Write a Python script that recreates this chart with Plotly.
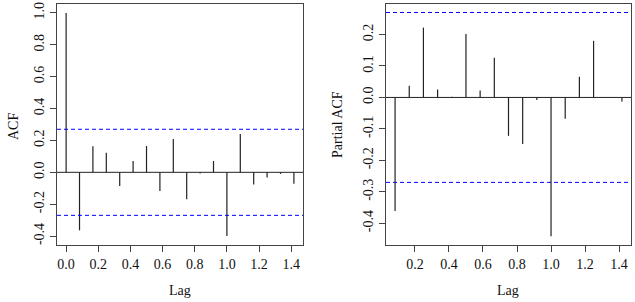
import plotly.graph_objects as go

# ---- data ----
acf_lags = [i / 12 for i in range(0, 18)]
acf_values = [1.0, -0.364, 0.164, 0.123, -0.086, 0.071, 0.165, -0.117, 0.209,
              -0.169, -0.008, 0.071, -0.400, 0.240, -0.077, -0.033, -0.010, -0.071]
pacf_lags = [i / 12 for i in range(1, 18)]
pacf_values = [-0.361, 0.037, 0.222, 0.025, 0.002, 0.202, 0.022, 0.126, -0.122,
               -0.148, -0.008, -0.441, -0.068, 0.066, 0.180, 0.001, -0.013]
conf_limit = 0.27
acf_yticks = [-0.4, -0.2, 0.0, 0.2, 0.4, 0.6, 0.8, 1.0]
pacf_yticks = [-0.4, -0.3, -0.2, -0.1, 0.0, 0.1, 0.2]
acf_xticks = [0.0, 0.2, 0.4, 0.6, 0.8, 1.0, 1.2, 1.4]
pacf_xticks = [0.2, 0.4, 0.6, 0.8, 1.0, 1.2, 1.4]

W, H = 635, 302
FONT = "Liberation Serif"
FS = 14
BAR = "#222222"


def segs(xs, ys):
    X, Y = [], []
    for x, y in zip(xs, ys):
        X += [x, x, None]
        Y += [0, y, None]
    return X, Y


fig = go.Figure()
ax, ay = segs(acf_lags, acf_values)
fig.add_trace(go.Scatter(x=ax, y=ay, mode="lines", line=dict(color=BAR, width=1.2),
                         xaxis="x", yaxis="y", showlegend=False, hoverinfo="skip"))
px_, py_ = segs(pacf_lags, pacf_values)
fig.add_trace(go.Scatter(x=px_, y=py_, mode="lines", line=dict(color=BAR, width=1.2),
                         xaxis="x2", yaxis="y2", showlegend=False, hoverinfo="skip"))

for xr, yr in (("x", "y"), ("x2", "y2")):
    fig.add_shape(type="line", xref=f"{xr} domain", yref=yr, x0=0, x1=1, y0=0, y1=0,
                  line=dict(color=BAR, width=1))
    for s in (1, -1):
        fig.add_shape(type="line", xref=f"{xr} domain", yref=yr, x0=0, x1=1,
                      y0=s * conf_limit, y1=s * conf_limit,
                      line=dict(color="#0000ff", width=1, dash="4px,3px"))

ydom = [(H - 245) / H, (H - 4) / H]
common_axis = dict(showline=True, mirror=True, linecolor="#444444", linewidth=1,
                   ticks="outside", ticklen=6, tickcolor="#444444", showgrid=False,
                   zeroline=False, automargin=False,
                   tickfont=dict(family=FONT, size=FS, color="#111"))

fig.update_layout(
    width=W, height=H, margin=dict(l=0, r=0, t=0, b=0),
    paper_bgcolor="white", plot_bgcolor="white",
    xaxis=dict(domain=[57 / W, 303 / W], range=[-0.0567, 1.4733], tickvals=acf_xticks,
               ticktext=[f"{v:.1f}" for v in acf_xticks], anchor="y", **common_axis),
    yaxis=dict(domain=ydom, range=[-0.456, 1.056], tickvals=acf_yticks,
               ticktext=[f"{v:.1f}" for v in acf_yticks], tickangle=-90, anchor="x",
               **common_axis),
    xaxis2=dict(domain=[386 / W, 631 / W], range=[0.03, 1.47], tickvals=pacf_xticks,
                ticktext=[f"{v:.1f}" for v in pacf_xticks], anchor="y2", **common_axis),
    yaxis2=dict(domain=ydom, range=[-0.469, 0.297], tickvals=pacf_yticks,
                ticktext=[f"{v:.1f}" for v in pacf_yticks], tickangle=-90, anchor="x2",
                **common_axis),
)

tfont = dict(family=FONT, size=FS, color="#111")
titles = [
    ("Lag", 180 / W, 1 - 290 / H, 0),
    ("Lag", 508 / W, 1 - 290 / H, 0),
    ("ACF", 13 / W, 1 - 127 / H, -90),
    ("Partial ACF", 337 / W, 1 - 125 / H, -90),
]
for text, x, y, ang in titles:
    fig.add_annotation(text=text, x=x, y=y, xref="paper", yref="paper",
                       xanchor="center", yanchor="middle", textangle=ang,
                       showarrow=False, font=tfont)

fig.write_html("out.html", config={"displayModeBar": False, "staticPlot": True},
               post_script="document.body.style.margin='0';document.body.style.overflow='hidden';")
